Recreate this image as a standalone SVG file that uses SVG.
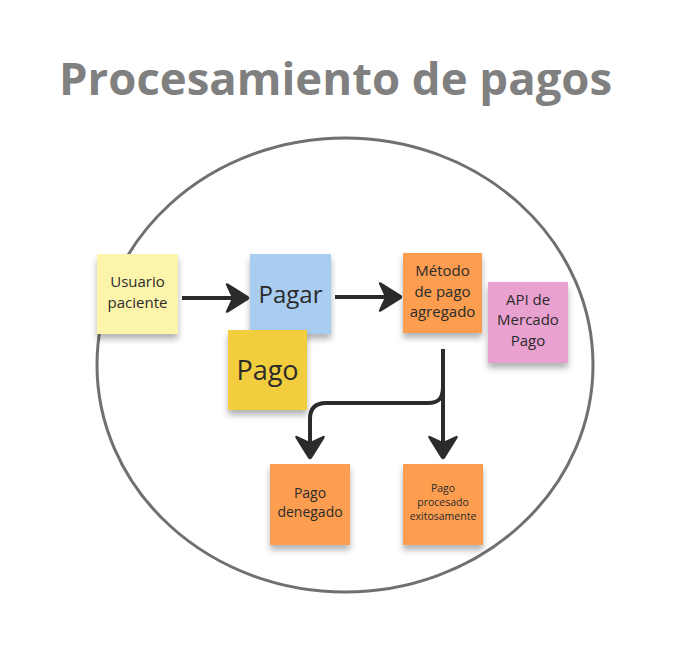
<svg xmlns="http://www.w3.org/2000/svg" width="691" height="663" viewBox="0 0 691 663">
  <defs>
    <style>
      .title{font-family:"Open Sans","Liberation Sans",sans-serif;font-weight:700;font-size:45.5px;fill:#808080}
      .t{font-family:"Open Sans","Liberation Sans",sans-serif;fill:#2b2b2b;text-anchor:middle}
      .note{filter:url(#sh)}
      .conn{fill:none;stroke:#2b2b2b;stroke-width:4;marker-end:url(#ah)}
    </style>
    <filter id="sh" x="-20%" y="-20%" width="140%" height="150%">
      <feDropShadow dx="0" dy="5" stdDeviation="3" flood-color="#000" flood-opacity="0.3"/>
    </filter>
    <marker id="ah" markerUnits="userSpaceOnUse" markerWidth="30" markerHeight="32" viewBox="0 0 30 32" refX="18" refY="16" orient="auto">
      <path d="M3,3 Q2,0.5 5,1.5 L25,14 Q27.5,16 25,18 L5,30.5 Q2,31.5 3,29 L9,16 Z" fill="#2b2b2b"/>
    </marker>
  </defs>
  <rect width="691" height="663" fill="#ffffff"/>
  <text class="title" x="59" y="95">Procesamiento de pagos</text>
  <ellipse cx="345" cy="365" rx="248" ry="227" fill="none" stroke="#707070" stroke-width="3"/>

  <g id="connectors">
    <path class="conn" d="M182,298 H241"/>
    <path class="conn" d="M335,297 H394"/>
    <path class="conn" d="M443,349 V451"/>
    <path class="conn" d="M443,386 C443,398 439,403 428,403 H326 Q310,403 310,419 V451"/>
  </g>

  <g id="usuario">
    <rect class="note" x="97" y="254" width="81" height="80" fill="#fdf4ab"/>
    <text class="t" font-size="15" x="137.5" y="287">Usuario</text>
    <text class="t" font-size="15" x="137.5" y="308">paciente</text>
  </g>
  <g id="pagar">
    <rect class="note" x="250" y="254" width="81" height="80" fill="#a9cdf1"/>
    <text class="t" font-size="24" x="290.5" y="303">Pagar</text>
  </g>
  <g id="pago">
    <rect class="note" x="228" y="330" width="79" height="80" fill="#f2cd3c"/>
    <text class="t" font-size="27" x="267.5" y="380">Pago</text>
  </g>
  <g id="metodo">
    <rect class="note" x="403" y="253" width="79" height="80" fill="#fc9d50"/>
    <text class="t" font-size="15" x="442.5" y="276">Método</text>
    <text class="t" font-size="15" x="442.5" y="297">de pago</text>
    <text class="t" font-size="15" x="442.5" y="317">agregado</text>
  </g>
  <g id="api">
    <rect class="note" x="488" y="282" width="80" height="81" fill="#e9a1d0"/>
    <text class="t" font-size="15" x="528" y="305">API de</text>
    <text class="t" font-size="15" x="528" y="325">Mercado</text>
    <text class="t" font-size="15" x="528" y="346">Pago</text>
  </g>
  <g id="denegado">
    <rect class="note" x="270" y="464" width="80" height="81" fill="#fd9d4f"/>
    <text class="t" font-size="14" x="310" y="498">Pago</text>
    <text class="t" font-size="14" x="310" y="517">denegado</text>
  </g>
  <g id="procesado">
    <rect class="note" x="403" y="464" width="80" height="81" fill="#fd9d4f"/>
    <text class="t" font-size="10.5" x="443" y="492">Pago</text>
    <text class="t" font-size="10.5" x="443" y="506">procesado</text>
    <text class="t" font-size="10.5" x="443" y="520">exitosamente</text>
  </g>
</svg>
